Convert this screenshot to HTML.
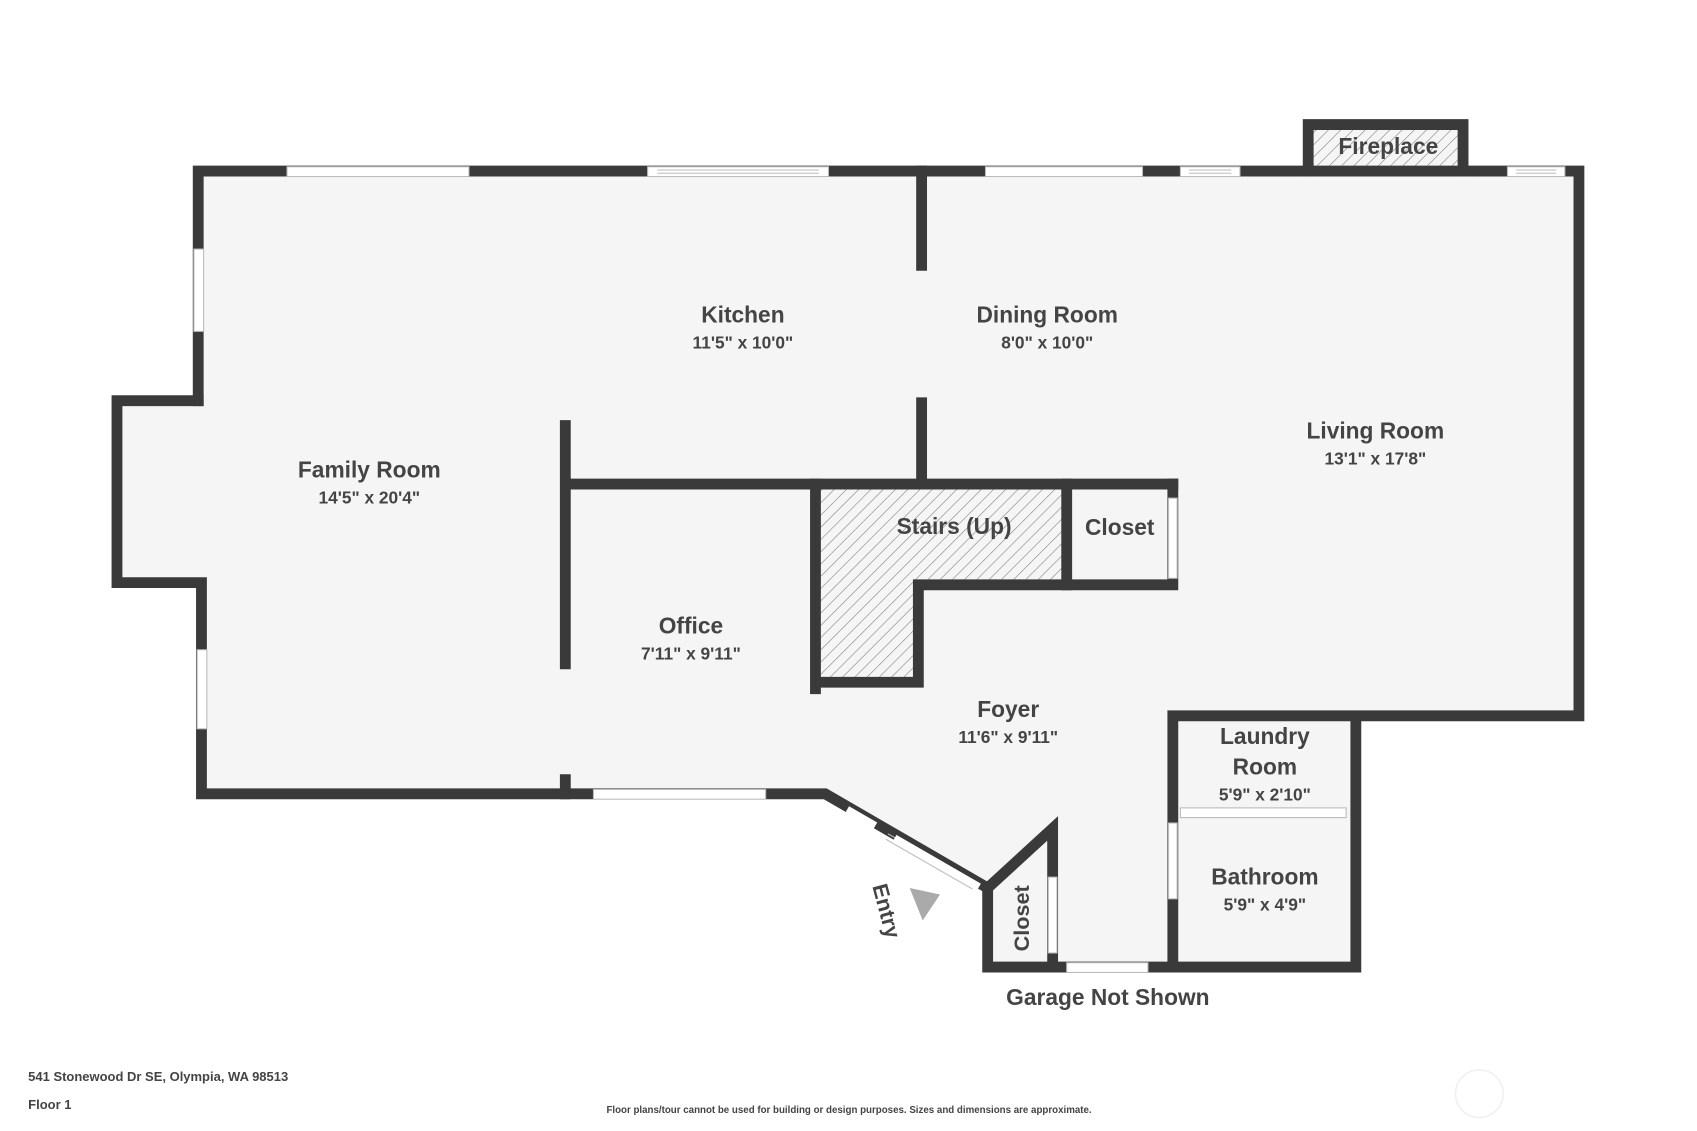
<!DOCTYPE html>
<html><head><meta charset="utf-8"><style>
html,body{margin:0;padding:0;background:#fff;}
svg{display:block;}
text{font-family:"Liberation Sans","DejaVu Sans",sans-serif;font-weight:bold;fill:#444;text-anchor:middle;}
</style></head><body>
<svg width="1697" height="1131" viewBox="0 0 1567 1044.4" xmlns="http://www.w3.org/2000/svg">
<defs>
<pattern id="h" width="8" height="8" patternUnits="userSpaceOnUse" patternTransform="rotate(45)">
<rect width="8" height="8" fill="#f5f5f5"/><line x1="0" y1="0" x2="0" y2="8" stroke="#777" stroke-width="1"/>
</pattern>
</defs>
<rect width="1567" height="1045" fill="#fff"/>
<polygon points="183,158 1458,158 1458,661 1252,661 1252,893 912,893 912,820 762,733 186,733 186,538 108,538 108,370 183,370" fill="#f5f5f5"/>
<!-- stairs hatch -->
<polygon points="758,452 985,452 985,535 848,535 848,628 758,628" fill="url(#h)"/>
<rect x="1213" y="117" width="135" height="36" fill="url(#h)"/>
<g stroke="#3a3a3a" stroke-width="10" fill="none" stroke-linecap="square" stroke-linejoin="miter">
<polyline points="183,370 183,158 1458,158 1458,661 1083,661 1083,893 1252,893 1252,661"/>
<polyline points="1083,893 912,893 912,820 972,765 972,893"/>
<polyline points="912,820 762,733 186,733 186,538 108,538 108,370 183,370"/>
<polyline points="1208,158 1208,115 1351,115 1351,158"/>
<line x1="851" y1="158" x2="851" y2="245"/>
<line x1="851" y1="372" x2="851" y2="447"/>
<line x1="527" y1="447" x2="1083" y2="447"/>
<line x1="522" y1="393" x2="522" y2="613"/>
<line x1="522" y1="720" x2="522" y2="733"/>
<line x1="753" y1="447" x2="753" y2="636"/>
<polyline points="758,630 848,630 848,540 1083,540 1083,447"/>
<line x1="985" y1="447" x2="985" y2="540"/>
</g>
<!-- windows / doors -->
<g fill="#fff" stroke="#bbb" stroke-width="1">
<rect x="265" y="154" width="168" height="9"/>
<rect x="598" y="154" width="167" height="9"/><line x1="607" y1="157" x2="756" y2="157"/><line x1="607" y1="160" x2="756" y2="160"/>
<rect x="910" y="154" width="145" height="9"/>
<rect x="1090" y="154" width="55" height="9"/><line x1="1098" y1="157" x2="1137" y2="157"/><line x1="1098" y1="160" x2="1137" y2="160"/>
<rect x="1392" y="154" width="53" height="9"/><line x1="1400" y1="157" x2="1437" y2="157"/><line x1="1400" y1="160" x2="1437" y2="160"/>
<rect x="179" y="230" width="9" height="76"/>
<rect x="182" y="600" width="9" height="73"/>
<rect x="548" y="729" width="159" height="9"/>
<rect x="985" y="889" width="75" height="9"/>
<rect x="968" y="810" width="8" height="70"/>
<rect x="1079" y="460" width="8" height="74"/>
<rect x="1079" y="760" width="8" height="70"/>
<rect x="1090" y="746" width="153" height="9"/>
</g>
<g fill="none" stroke="#bbb" stroke-width="1"><line x1="820" y1="770" x2="900" y2="816"/><line x1="818" y1="775" x2="898" y2="821"/></g>
<line x1="826" y1="774" x2="904" y2="819" stroke="#fff" stroke-width="7"/>
<line x1="782" y1="748" x2="808" y2="763" stroke="#fff" stroke-width="8"/>
<polygon points="840,820 868,826 852,850" fill="#aaa"/>
<!-- labels -->
<text x="686" y="298" font-size="21">Kitchen</text>
<text x="686" y="322" font-size="16">11'5" x 10'0"</text>
<text x="967" y="298" font-size="21">Dining Room</text>
<text x="967" y="322" font-size="16">8'0" x 10'0"</text>
<text x="1270" y="405" font-size="21">Living Room</text>
<text x="1270" y="429" font-size="16">13'1" x 17'8"</text>
<text x="341" y="441" font-size="21">Family Room</text>
<text x="341" y="465" font-size="16">14'5" x 20'4"</text>
<text x="881" y="493" font-size="21">Stairs (Up)</text>
<text x="1034" y="494" font-size="21">Closet</text>
<text x="638" y="585" font-size="21">Office</text>
<text x="638" y="609" font-size="16">7'11" x 9'11"</text>
<text x="931" y="662" font-size="21">Foyer</text>
<text x="931" y="686" font-size="16">11'6" x 9'11"</text>
<text x="1168" y="687" font-size="21">Laundry</text>
<text x="1168" y="715" font-size="21">Room</text>
<text x="1168" y="739" font-size="16">5'9" x 2'10"</text>
<text x="1168" y="817" font-size="21">Bathroom</text>
<text x="1168" y="841" font-size="16">5'9" x 4'9"</text>
<text x="1282" y="142" font-size="21">Fireplace</text>
<text x="1023" y="928" font-size="21">Garage Not Shown</text>
<text transform="translate(950,848) rotate(-90)" font-size="20">Closet</text>
<text transform="translate(812,843) rotate(75)" font-size="20">Entry</text>
<text x="26" y="998" font-size="12" style="text-anchor:start">541 Stonewood Dr SE, Olympia, WA 98513</text>
<text x="26" y="1024" font-size="12" style="text-anchor:start">Floor 1</text>
<text x="784" y="1028" font-size="9">Floor plans/tour cannot be used for building or design purposes. Sizes and dimensions are approximate.</text>
<circle cx="1366" cy="1010" r="22" fill="none" stroke="#f0f0f0" stroke-width="1.5"/>
</svg>
</body></html>
